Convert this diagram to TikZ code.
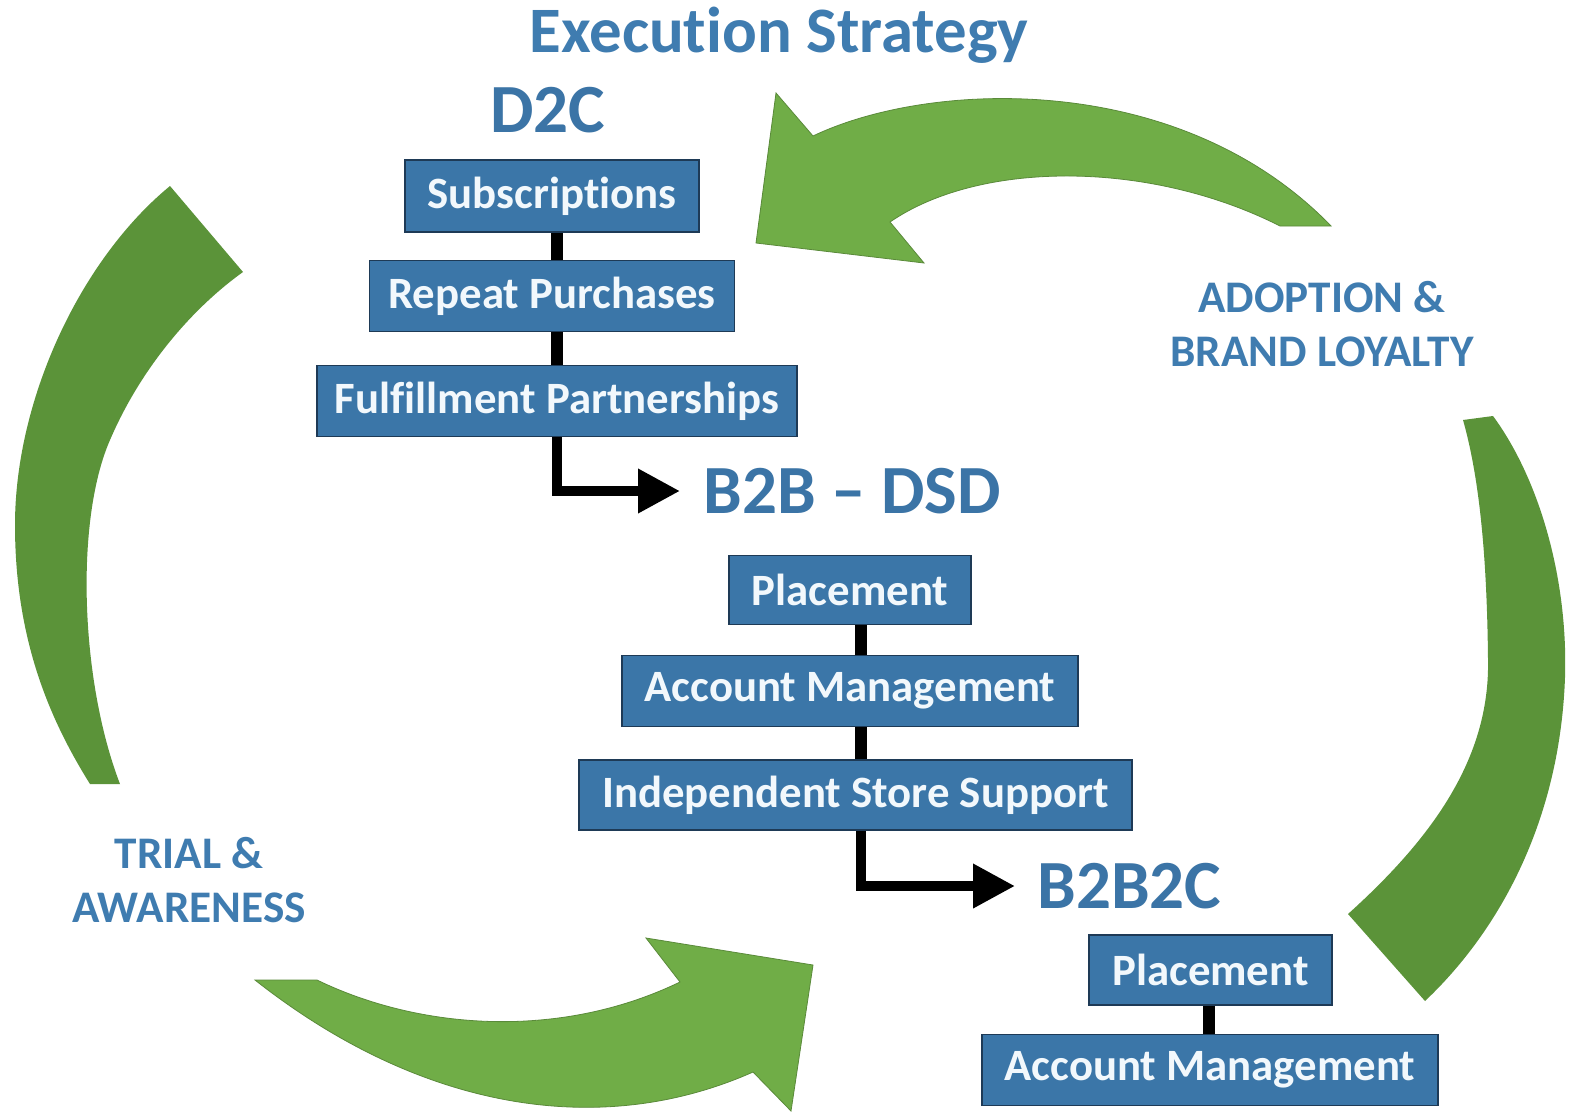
\documentclass[tikz,border=0pt]{standalone}
\usepackage{fontspec}
\setmainfont{Carlito}[Ligatures={NoCommon,NoContextual},Contextuals=NoAlternate]
\usetikzlibrary{arrows.meta}
\definecolor{boxblue}{HTML}{3B76A8}
\definecolor{boxedge}{HTML}{1E3A56}
\definecolor{headblue}{HTML}{3B74A6}
\definecolor{lblblue}{HTML}{3F7CB0}
\definecolor{lightgreen}{HTML}{70AD47}
\definecolor{darkgreen}{HTML}{5B9339}
\definecolor{greenedge}{HTML}{5A8A3A}
\definecolor{boxtext}{HTML}{F2F8FC}
\tikzset{
  box/.style={draw=boxedge, line width=0.8pt, fill=boxblue, text=boxtext, inner sep=0pt,
    font=\fontsize{22.4}{25}\selectfont\bfseries},
  heading/.style={text=headblue, inner sep=0pt, font=\fontsize{34.5}{38}\selectfont\bfseries},
  sidelabel/.style={text=lblblue, inner sep=0pt, align=center, font=\fontsize{22.6}{27}\selectfont\bfseries},
  link/.style={line width=6pt, black},
  elbow/.style={line width=5pt, black, -{Triangle[length=21pt,width=21pt]}},
  bigarrow/.style={fill=lightgreen, draw=greenedge, line width=0.4pt},
  bigarc/.style={fill=darkgreen}
}
\begin{document}
\begin{tikzpicture}[x=0.5pt,y=-0.5pt]
\useasboundingbox (0,0) rectangle (1572,1114);
\fill[white] (0,0) rectangle (1572,1114);

% green cycle arrows
\path[bigarrow] (776,93) -- (813,136) .. controls (930,80) and (1180,70) .. (1331,226)
  -- (1280,226) .. controls (1150,160) and (980,160) .. (890,222)
  -- (924,263) -- (756,243) -- cycle;
\path[bigarc] (170,186) .. controls (80,260) and (15,400) .. (15,525)
  .. controls (15,640) and (50,720) .. (90,784) -- (120,784)
  .. controls (80,680) and (75,520) .. (110,440)
  .. controls (140,370) and (190,310) .. (243,272) -- cycle;
\path[bigarrow] (255,980) -- (317,980) .. controls (420,1030) and (560,1040) .. (680,982)
  -- (646,938) -- (813,965) -- (791,1111) -- (753,1072)
  .. controls (600,1140) and (420,1110) .. (255,980) -- cycle;
\path[bigarc] (1493,416) .. controls (1540,480) and (1568,580) .. (1565,677)
  .. controls (1560,820) and (1500,930) .. (1425,1001) -- (1348,914)
  .. controls (1430,840) and (1490,760) .. (1488,660)
  .. controls (1487,560) and (1480,480) .. (1463,420) -- cycle;

% headings
\node[heading, font=\fontsize{32.4}{36}\selectfont\bfseries, text=lblblue] (title) at (779,35) {Execution Strategy};
\node[heading] (d2c) at (548,110) {D2C};
\node[heading, anchor=west] (b2b) at (703,491) {B2B – DSD};
\node[heading, anchor=west] (b2b2c) at (1037,886) {B2B2C};

% side labels
\node[sidelabel] (adopt) at (1322,324) {ADOPTION \&\\BRAND LOYALTY};
\node[sidelabel] (trial) at (189,880) {TRIAL \&\\AWARENESS};

% connector x positions
\coordinate (cA) at (557,0);
\coordinate (cB) at (861,0);
\coordinate (cC) at (1209,0);

% D2C chain
\node[box, minimum width=147pt, minimum height=36pt] (sub) at (552,196) {Subscriptions};
\node[box, minimum width=182.5pt, minimum height=35.5pt] (rep) at (552,296) {Repeat Purchases};
\node[box, minimum width=240pt, minimum height=35.5pt] (ful) at (557,401) {Fulfillment Partnerships};
\draw[link] (sub.south -| cA) -- (rep.north -| cA);
\draw[link] (rep.south -| cA) -- (ful.north -| cA);
\draw[elbow, shorten >=11.5pt] (ful.south -| cA) |- (b2b.west);

% B2B - DSD chain
\node[box, minimum width=121pt, minimum height=34.5pt] (pl1) at (850,590) {Placement};
\node[box, minimum width=228pt, minimum height=35.5pt] (am1) at (850,691) {Account Management};
\node[box, minimum width=276.5pt, minimum height=35pt] (iss) at (855.5,795) {Independent Store Support};
\draw[link] (pl1.south -| cB) -- (am1.north -| cB);
\draw[link] (am1.south -| cB) -- (iss.north -| cB);
\draw[elbow, shorten >=11pt] (iss.south -| cB) |- (b2b2c.west);

% B2B2C chain
\node[box, minimum width=121.5pt, minimum height=35pt] (pl2) at (1210.5,970) {Placement};
\node[box, minimum width=228pt, minimum height=35.5pt] (am2) at (1210,1070) {Account Management};
\draw[link] (pl2.south -| cC) -- (am2.north -| cC);
\end{tikzpicture}
\end{document}
